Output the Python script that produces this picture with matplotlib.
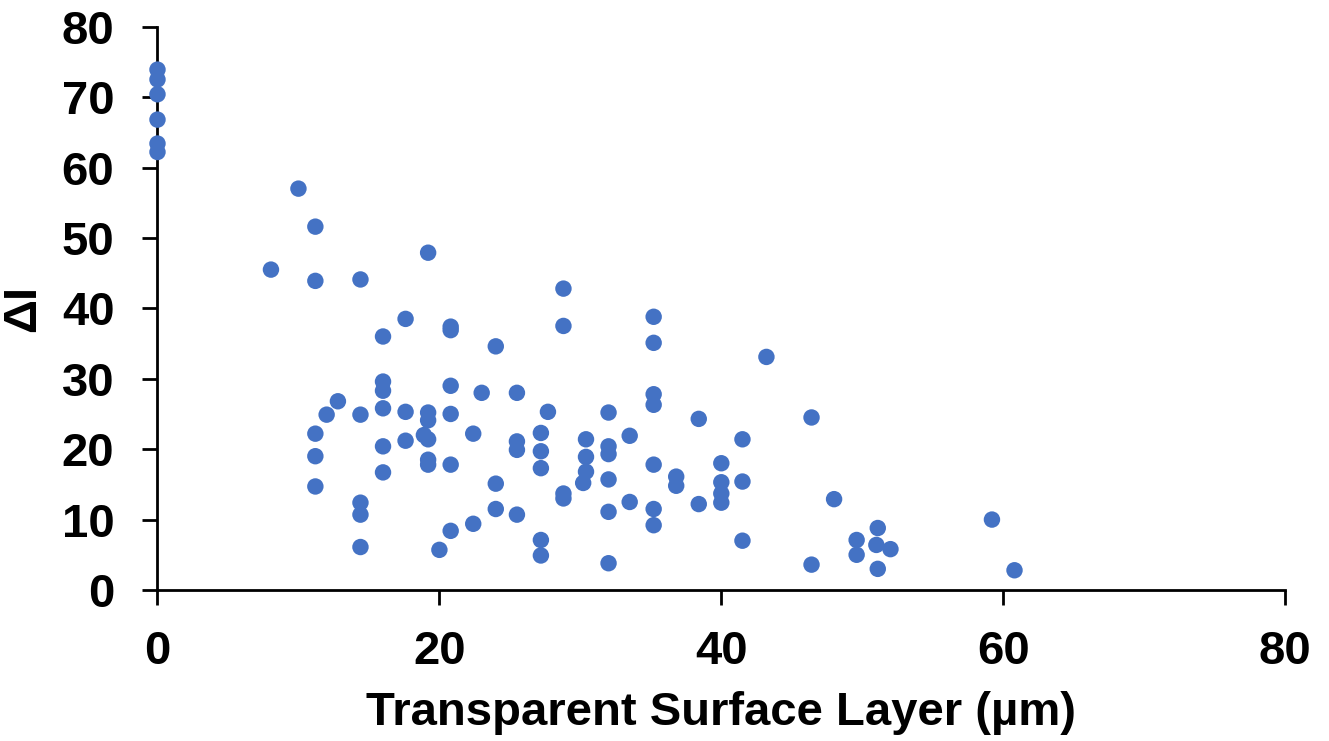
import matplotlib
matplotlib.use("Agg")
import matplotlib.pyplot as plt

# Transparent surface layer thickness (µm)
layer_um = [
    0, 0, 0, 0, 0, 0,
    10.0, 11.2, 8.05, 11.2, 14.4, 19.2, 17.6,
    28.8, 28.8, 16.0, 20.8, 20.8, 24.0,
    16.0, 16.0, 20.8, 23.0, 25.5,
    12.8, 12.0, 14.4, 16.0, 17.6, 19.2, 19.2, 20.8, 27.7, 32.0,
    11.2, 11.2, 11.2, 14.4, 14.4, 14.4,
    16.0, 16.0, 17.6, 18.9, 19.2, 19.2, 19.2, 20.8,
    22.4, 25.5, 25.5, 27.2, 27.2, 27.2,
    24.0, 24.0, 25.5, 22.4, 20.8, 20.0,
    28.8, 28.8, 30.4, 30.4, 30.4, 30.2,
    32.0, 32.0, 32.0, 32.0, 32.0, 27.2, 27.2, 33.5, 33.5,
    35.2, 35.2, 35.2, 35.2, 35.2, 35.2, 35.2,
    36.8, 36.8, 38.4, 38.4,
    40.0, 40.0, 40.0, 40.0,
    41.5, 41.5, 41.5, 43.2, 46.4, 46.4, 48.0,
    49.6, 49.6, 51.1, 51.0, 52.0, 51.1, 59.2, 60.8,
]
# Delta I values
delta_i = [
    73.9, 72.5, 70.4, 66.8, 63.4, 62.2,
    57.0, 51.6, 45.5, 43.9, 44.1, 47.9, 38.5,
    42.8, 37.5, 36.0, 37.4, 36.9, 34.6,
    29.6, 28.3, 29.0, 28.0, 28.0,
    26.8, 24.9, 24.9, 25.8, 25.3, 25.2, 24.1, 25.0, 25.3, 25.2,
    22.2, 19.0, 14.7, 12.4, 10.7, 6.1,
    20.4, 16.7, 21.2, 22.0, 21.4, 18.5, 17.8, 17.8,
    22.2, 21.1, 19.9, 22.3, 19.7, 17.3,
    15.1, 11.5, 10.7, 9.4, 8.4, 5.7,
    13.7, 13.0, 21.4, 18.9, 16.8, 15.2,
    20.4, 19.3, 15.7, 11.1, 3.8, 7.1, 4.9, 21.9, 12.5,
    38.8, 35.1, 27.8, 26.3, 17.8, 11.5, 9.2,
    16.1, 14.8, 24.3, 12.2,
    18.0, 15.3, 13.7, 12.4,
    21.4, 15.4, 7.0, 33.1, 24.5, 3.6, 12.9,
    7.1, 5.0, 8.8, 6.4, 5.8, 3.0, 10.0, 2.8,
]

x_ticks = [0, 20, 40, 60, 80]
y_ticks = [0, 10, 20, 30, 40, 50, 60, 70, 80]

plt.rcParams['font.family'] = ['Liberation Sans', 'DejaVu Sans']
plt.rcParams['font.weight'] = 'bold'

fig = plt.figure(figsize=(13.29, 7.41), dpi=100)
ax = fig.add_axes([0.1185, 0.2038, 0.8485, 0.7602])

ax.scatter(layer_um, delta_i, s=140, color='#4472C4', edgecolors='none',
           zorder=3, clip_on=False)

ax.set_xlim(0, 80)
ax.set_ylim(0, 80)
ax.set_xticks(x_ticks)
ax.set_yticks(y_ticks)
ax.tick_params(axis='both', direction='out', length=11, width=2, labelsize=34,
               color='black')
ax.tick_params(axis='y', pad=20)
ax.tick_params(axis='x', pad=18)

for s in ['top', 'right']:
    ax.spines[s].set_visible(False)
for s in ['left', 'bottom']:
    ax.spines[s].set_linewidth(2)
    ax.spines[s].set_color('black')

for lab in ax.get_xticklabels() + ax.get_yticklabels():
    lab.set_fontweight('bold')

ax.set_xlabel('Transparent Surface Layer (µm)', fontsize=34, fontweight='bold', labelpad=12)
ax.set_ylabel('ΔI', fontsize=34, fontweight='bold', labelpad=12)

fig.savefig('out.png', dpi=100)
